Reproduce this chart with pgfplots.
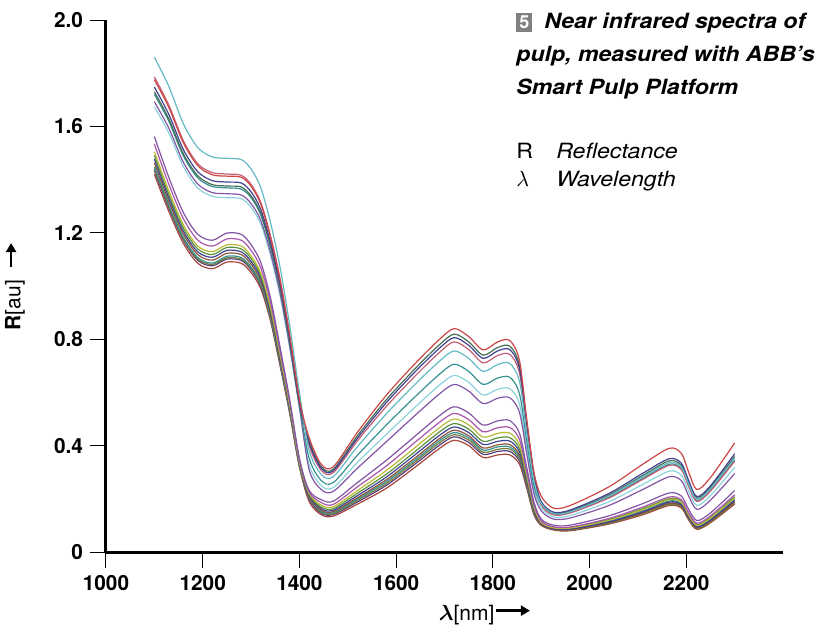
\documentclass[border=0pt]{standalone}
\usepackage{pgfplots}
\pgfplotsset{compat=1.18}
\usepackage{pgfplotstable}
\usetikzlibrary{arrows.meta}
\usepackage{fontspec}
\setmainfont{TeX Gyre Heros}

\definecolor{cRed}{RGB}{205,70,70}
\definecolor{cCyan}{RGB}{100,185,195}
\definecolor{cNavy}{RGB}{65,65,145}
\definecolor{cTeal}{RGB}{55,145,145}
\definecolor{cRose}{RGB}{195,95,115}
\definecolor{cPurple}{RGB}{130,85,165}
\definecolor{cDkGreen}{RGB}{70,110,85}
\definecolor{cLtCyan}{RGB}{140,210,220}
\definecolor{cMagenta}{RGB}{170,85,170}
\definecolor{cYellow}{RGB}{185,185,55}
\definecolor{cGreen}{RGB}{90,145,60}
\definecolor{cBrown}{RGB}{140,85,60}
\definecolor{cOlive}{RGB}{115,125,60}
\definecolor{cDkPurple}{RGB}{90,60,125}
\definecolor{cRedBrown}{RGB}{165,70,60}
\definecolor{boxgray}{RGB}{128,128,128}

\newcommand{\heavyarrow}[1]{\tikz[baseline=-0.85ex]\draw[-{Triangle[length=4.5pt,width=5pt]},line width=1.4pt] (0,0)--(#1,0);}

% NIR spectra, wavelength in nm, reflectance in au
\pgfplotstableread{
x U1 U2 U3 U4 U5 U6 U7 U8 L1 L2 L3 L4 L5 L6 L7 L8 L9 L10
1100 1.86 1.776 1.748 1.721 1.786 1.693 1.730 1.674 1.562 1.534 1.505 1.491 1.477 1.463 1.448 1.441 1.434 1.42
1130 1.75 1.671 1.645 1.619 1.68 1.593 1.628 1.575 1.408 1.382 1.357 1.344 1.331 1.318 1.306 1.299 1.293 1.28
1160 1.61 1.538 1.513 1.489 1.546 1.465 1.497 1.449 1.276 1.253 1.230 1.218 1.206 1.195 1.183 1.177 1.172 1.16
1190 1.52 1.452 1.429 1.406 1.459 1.383 1.414 1.368 1.194 1.172 1.150 1.139 1.128 1.118 1.107 1.101 1.096 1.085
1220 1.485 1.418 1.396 1.374 1.426 1.351 1.381 1.337 1.172 1.150 1.129 1.118 1.108 1.097 1.086 1.081 1.076 1.065
1250 1.48 1.413 1.391 1.369 1.421 1.347 1.376 1.332 1.199 1.177 1.155 1.145 1.134 1.123 1.112 1.106 1.101 1.09
1280 1.475 1.409 1.387 1.364 1.416 1.342 1.372 1.328 1.194 1.172 1.150 1.139 1.128 1.118 1.107 1.101 1.096 1.085
1300 1.44 1.375 1.354 1.332 1.382 1.310 1.339 1.296 1.155 1.134 1.113 1.103 1.092 1.082 1.071 1.066 1.061 1.05
1320 1.37 1.308 1.288 1.267 1.315 1.247 1.274 1.233 1.089 1.069 1.049 1.040 1.030 1.020 1.010 1.005 1.000 0.99
1340 1.24 1.184 1.166 1.147 1.190 1.128 1.153 1.116 0.957 0.940 0.922 0.914 0.905 0.896 0.887 0.883 0.879 0.87
1360 1.07 1.022 1.006 0.990 1.027 0.974 0.995 0.963 0.770 0.756 0.742 0.735 0.728 0.721 0.714 0.711 0.707 0.70
1380 0.85 0.812 0.799 0.786 0.816 0.774 0.791 0.765 0.572 0.562 0.551 0.546 0.541 0.536 0.530 0.528 0.525 0.52
1400 0.60 0.573 0.564 0.555 0.576 0.546 0.558 0.540 0.352 0.346 0.339 0.336 0.333 0.330 0.326 0.325 0.323 0.32
1420 0.382 0.43 0.411 0.353 0.401 0.31 0.418 0.329 0.232 0.226 0.221 0.217 0.213 0.209 0.206 0.203 0.199 0.19
1445 0.292 0.33 0.315 0.269 0.307 0.235 0.321 0.250 0.197 0.186 0.176 0.169 0.163 0.157 0.153 0.150 0.146 0.14
1470 0.283 0.32 0.305 0.261 0.298 0.228 0.311 0.242 0.191 0.179 0.170 0.163 0.157 0.152 0.148 0.144 0.141 0.135
1520 0.396 0.45 0.428 0.364 0.418 0.315 0.437 0.337 0.261 0.245 0.231 0.221 0.212 0.204 0.199 0.194 0.188 0.18
1580 0.52 0.59 0.562 0.478 0.548 0.415 0.573 0.443 0.345 0.324 0.307 0.293 0.282 0.272 0.265 0.258 0.251 0.24
1640 0.632 0.71 0.679 0.585 0.663 0.515 0.691 0.546 0.437 0.414 0.394 0.379 0.367 0.355 0.347 0.340 0.332 0.32
1690 0.718 0.80 0.767 0.669 0.751 0.595 0.780 0.628 0.513 0.488 0.468 0.452 0.439 0.427 0.419 0.411 0.402 0.39
1720 0.756 0.84 0.806 0.706 0.790 0.63 0.819 0.664 0.546 0.521 0.500 0.483 0.470 0.458 0.449 0.441 0.433 0.42
1750 0.728 0.81 0.777 0.679 0.761 0.605 0.790 0.638 0.523 0.498 0.478 0.462 0.449 0.437 0.429 0.421 0.412 0.40
1780 0.679 0.76 0.728 0.630 0.711 0.558 0.740 0.590 0.477 0.452 0.432 0.416 0.404 0.391 0.383 0.375 0.367 0.355
1810 0.705 0.79 0.756 0.654 0.739 0.578 0.769 0.612 0.493 0.467 0.446 0.429 0.416 0.403 0.395 0.386 0.378 0.365
1835 0.709 0.795 0.761 0.657 0.743 0.58 0.774 0.614 0.494 0.468 0.447 0.430 0.417 0.404 0.395 0.387 0.378 0.365
1855 0.642 0.72 0.689 0.595 0.673 0.525 0.701 0.556 0.447 0.424 0.404 0.389 0.377 0.365 0.357 0.350 0.342 0.33
1870 0.448 0.50 0.479 0.417 0.469 0.37 0.487 0.391 0.318 0.302 0.289 0.279 0.271 0.263 0.258 0.253 0.248 0.24
1885 0.268 0.30 0.287 0.249 0.281 0.22 0.292 0.233 0.188 0.178 0.170 0.164 0.159 0.154 0.151 0.148 0.145 0.14
1900 0.183 0.21 0.190 0.179 0.177 0.155 0.186 0.166 0.124 0.117 0.111 0.113 0.107 0.104 0.109 0.102 0.103 0.10
1925 0.145 0.165 0.150 0.142 0.140 0.124 0.147 0.132 0.101 0.095 0.091 0.093 0.088 0.086 0.090 0.085 0.085 0.083
1960 0.151 0.175 0.158 0.148 0.147 0.128 0.154 0.137 0.101 0.094 0.090 0.091 0.086 0.084 0.088 0.082 0.083 0.08
2040 0.210 0.245 0.220 0.206 0.203 0.175 0.214 0.189 0.136 0.126 0.119 0.122 0.113 0.111 0.116 0.108 0.109 0.105
2110 0.283 0.33 0.296 0.277 0.273 0.235 0.288 0.254 0.182 0.169 0.159 0.163 0.151 0.148 0.155 0.144 0.146 0.14
2165 0.336 0.39 0.351 0.330 0.326 0.283 0.343 0.304 0.222 0.207 0.197 0.201 0.188 0.184 0.192 0.179 0.181 0.175
2190 0.319 0.37 0.333 0.313 0.309 0.268 0.325 0.288 0.210 0.196 0.186 0.190 0.177 0.173 0.181 0.169 0.171 0.165
2205 0.255 0.30 0.268 0.250 0.246 0.21 0.260 0.228 0.160 0.147 0.138 0.142 0.131 0.127 0.134 0.124 0.125 0.12
2222 0.198 0.235 0.208 0.193 0.190 0.16 0.202 0.175 0.118 0.108 0.100 0.103 0.094 0.091 0.097 0.088 0.090 0.085
2250 0.238 0.28 0.249 0.232 0.229 0.195 0.243 0.212 0.147 0.136 0.127 0.130 0.120 0.117 0.124 0.113 0.115 0.11
2300 0.353 0.41 0.369 0.346 0.341 0.295 0.359 0.318 0.231 0.215 0.203 0.208 0.194 0.189 0.198 0.185 0.187 0.18
}\spectra

\begin{document}
\begin{tikzpicture}
\begin{axis}[
  scale only axis, width=338.5pt, height=266pt,
  xmin=1000, xmax=2400, ymin=0, ymax=2,
  axis lines=left, axis line style={-, line width=1.5pt},
  tick align=outside, major tick length=8pt,
  tick style={line width=0.5pt, black},
  xtick={1000,1200,...,2200},
  xticklabels={\textbf{1000},\textbf{1200},\textbf{1400},\textbf{1600},\textbf{1800},\textbf{2000},\textbf{2200}},
  ytick={0,0.4,0.8,1.2,1.6,2.0},
  yticklabels={\textbf{0},\textbf{0.4},\textbf{0.8},\textbf{1.2},\textbf{1.6},\textbf{2.0}},
  tick label style={font=\bfseries\fontsize{10.4}{12}\selectfont},
  xlabel={{\boldmath$\lambda$}[nm]\heavyarrow{17pt}},
  xlabel style={font=\fontsize{10.5}{12}\selectfont, at={(axis description cs:0.56,0)}, anchor=base, yshift=-34pt},
  ylabel={\textbf{R}[au]\ \ \heavyarrow{12pt}},
  ylabel style={font=\fontsize{10.5}{12}\selectfont, at={(axis description cs:0,0.5)}, anchor=center, rotate=0, yshift=45.5pt},
  no markers,
  every axis plot/.append style={line width=0.6pt, smooth, tension=0.5},
]
\addplot[cRedBrown] table[x=x, y=L10] {\spectra};
\addplot[cDkPurple] table[x=x, y=L9] {\spectra};
\addplot[cOlive] table[x=x, y=L8] {\spectra};
\addplot[cTeal] table[x=x, y=L7] {\spectra};
\addplot[cBrown] table[x=x, y=L6] {\spectra};
\addplot[cNavy] table[x=x, y=L5] {\spectra};
\addplot[cGreen] table[x=x, y=L4] {\spectra};
\addplot[cYellow] table[x=x, y=L3] {\spectra};
\addplot[cMagenta] table[x=x, y=L2] {\spectra};
\addplot[cPurple] table[x=x, y=L1] {\spectra};
\addplot[cLtCyan] table[x=x, y=U8] {\spectra};
\addplot[cPurple] table[x=x, y=U6] {\spectra};
\addplot[cTeal] table[x=x, y=U4] {\spectra};
\addplot[cDkGreen] table[x=x, y=U7] {\spectra};
\addplot[cRose] table[x=x, y=U5] {\spectra};
\addplot[cNavy] table[x=x, y=U3] {\spectra};
\addplot[cCyan] table[x=x, y=U1] {\spectra};
\addplot[cRed] table[x=x, y=U2] {\spectra};
\end{axis}

% caption and symbol list
\begin{scope}[every node/.style={inner sep=0pt, anchor=base west, font=\fontsize{10.5}{12}\selectfont}]
\node at (205pt,261.5pt) {\setlength{\fboxsep}{1.5pt}\colorbox{boxgray}{\textcolor{white}{\bfseries\fontsize{9}{10}\selectfont 5}}};
\node at (219pt,261.5pt) {\scalebox{1.1}[1]{\bfseries\itshape Near infrared spectra of}};
\node at (205pt,245pt) {\scalebox{1.1}[1]{\bfseries\itshape pulp, measured with ABB’s}};
\node at (205pt,228.5pt) {\scalebox{1.1}[1]{\bfseries\itshape Smart Pulp Platform}};
\node at (205pt,196.5pt) {\scalebox{1.1}[1]{R}};
\node at (225pt,196.5pt) {\scalebox{1.1}[1]{\itshape Reflectance}};
\node at (205pt,182.5pt) {$\lambda$};
\node at (225pt,182.5pt) {\scalebox{1.1}[1]{\itshape Wavelength}};
\end{scope}

\pgfresetboundingbox
\path[use as bounding box] (-53pt,-42.5pt) rectangle (356pt,276pt);
\end{tikzpicture}
\end{document}
